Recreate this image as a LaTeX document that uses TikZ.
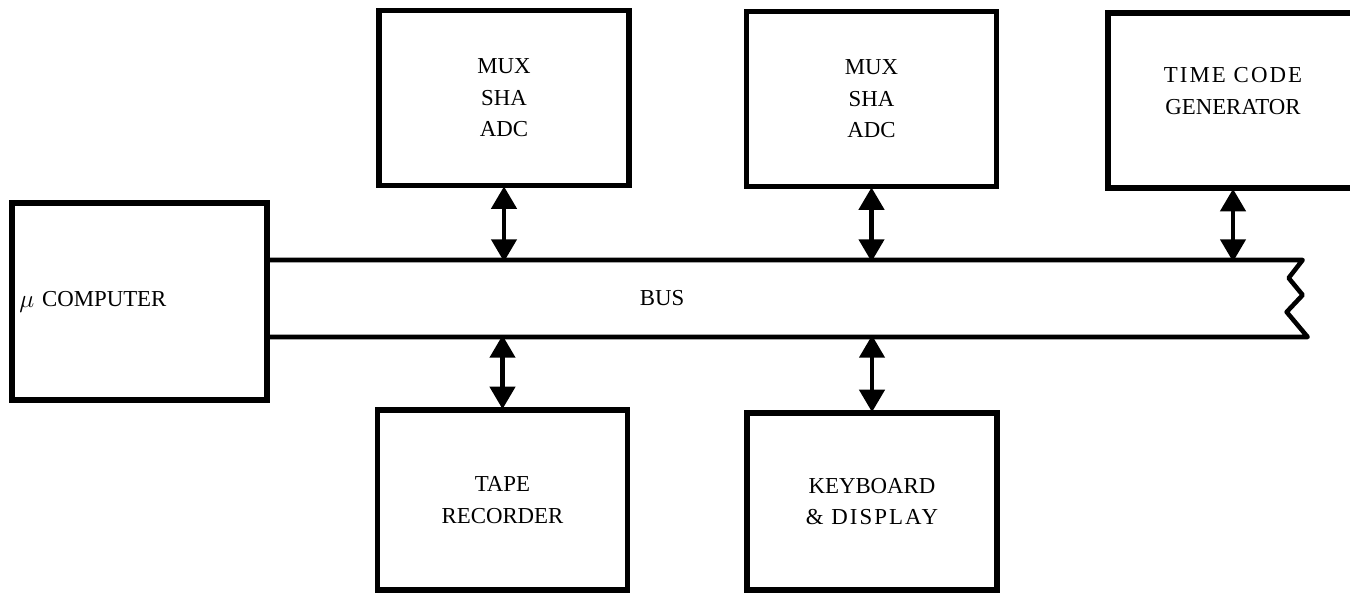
\documentclass[tikz,border=0pt]{standalone}
\usepackage{fontspec}
\setmainfont{Liberation Serif}
\newfontfamily\spacedfont[LetterSpace=9]{Liberation Serif}
\usepackage{tikz}
\usetikzlibrary{arrows.meta, positioning}
\tikzset{
  box/.style  = {rectangle, draw, line width=3pt,
                 minimum width=5.0cm, minimum height=3.5cm,
                 align=center, font=\fontsize{13}{18}\selectfont},
  bus/.style  = {rectangle, minimum width=20.66cm, minimum height=1.54cm,
                 inner sep=0pt, outer sep=0pt},
  busline/.style = {line width=2.6pt, line join=round},
  lbl/.style  = {font=\fontsize{13}{18}\selectfont, inner sep=0pt},
  darr/.style = {{Triangle[width=0.5cm,length=0.45cm]}-{Triangle[width=0.5cm,length=0.45cm]},
                 line width=2.6pt, shorten <=-1pt, shorten >=-1pt},
}
\begin{document}
\begin{tikzpicture}
  \useasboundingbox (0,0) rectangle (27,11.86);

  %% --- computer and bus ---
  \node[box, minimum width=5.1cm, minimum height=3.94cm,
        text width=4.8cm, inner sep=0.15cm, align=left] (comp) at (2.79,5.83)
        {\raisebox{-0.5pt}{\Large$\mu$} COMPUTER};
  \node[bus, right=0pt of comp.east, yshift=0.06cm] (bus) {};
  \node[lbl, right=7.4cm of bus.west] (buslbl) {BUS};

  \draw[busline] (bus.north west) -- (bus.north east)
        -- ++(-0.28,-0.36) -- ++(0.28,-0.34) -- ++(-0.32,-0.34)
        -- ++(0.42,-0.50) -- (bus.south west);

  %% --- upper row ---
  \node[box] (mux1) at (10.08,9.90) {MUX\\SHA\\ADC};
  \node[box] (mux2) at (17.43,9.88) {MUX\\SHA\\ADC};
  \node[box] (tcg)  at (24.66,9.85)
        {{\spacedfont TIME CODE}\\GENERATOR\\[-0.25cm]\mbox{}};

  %% --- lower row ---
  \node[box, minimum height=3.6cm]  (tape) at (10.05,1.86) {TAPE\\RECORDER};
  \node[box, minimum height=3.54cm] (kbd)  at (17.44,1.83)
        {KEYBOARD\\{\spacedfont \& DISPLAY}};

  %% --- Arrows ---
  \draw[darr] (mux1.south) -- (mux1.south |- bus.north);
  \draw[darr] (mux2.south) -- (mux2.south |- bus.north);
  \draw[darr] (tcg.south)  -- (tcg.south |- bus.north);
  \draw[darr] (tape.north) -- (tape.north |- bus.south);
  \draw[darr] (kbd.north)  -- (kbd.north |- bus.south);

\end{tikzpicture}
\end{document}
